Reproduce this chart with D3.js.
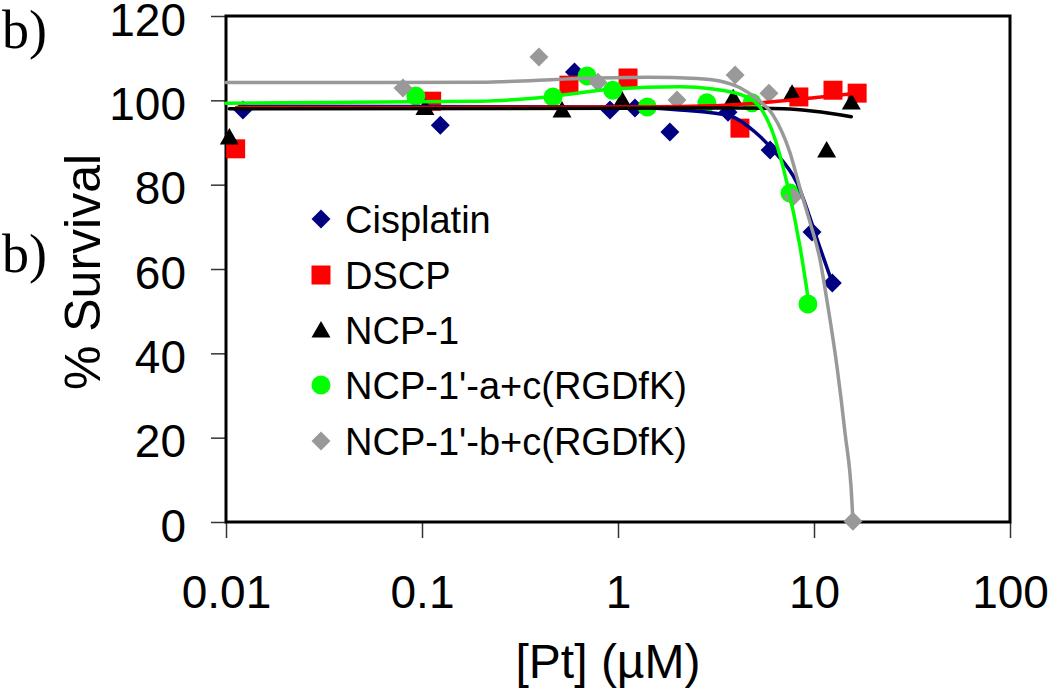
<!DOCTYPE html>
<html>
<head>
<meta charset="utf-8">
<script src="https://cdn.jsdelivr.net/npm/d3@7"></script>
<style>
  html, body { margin: 0; padding: 0; background: #fff; }
  svg { display: block; }
</style>
</head>
<body>
<svg id="chart" width="1050" height="691"></svg>
<script>
// ---------- data ----------
const seriesNames = ["Cisplatin", "DSCP", "NCP-1", "NCP-1'-a+c(RGDfK)", "NCP-1'-b+c(RGDfK)"];
const xTicks = [0.01, 0.1, 1, 10, 100];
const xTickLabels = ["0.01", "0.1", "1", "10", "100"];
const yTicks = [0, 20, 40, 60, 80, 100, 120];

// measured points [concentration µM, % survival]
const cisplatinPts = [[0.0122, 97.7], [0.124, 94.1], [0.60, 106.7], [0.91, 97.7], [1.22, 98.2], [1.84, 92.5], [3.64, 97.2], [5.97, 88.2], [9.77, 68.8], [12.4, 56.7]];
const dscpPts = [[0.0112, 88.5], [0.112, 99.8], [0.562, 103.6], [1.125, 105.3], [4.19, 93.4], [8.37, 100.8], [12.5, 102.4], [16.6, 101.7]];
const ncp1Pts = [[0.0104, 91.3], [0.1035, 98.3], [0.518, 97.7], [1.05, 100.1], [3.87, 100.6], [7.73, 101.7], [11.6, 88.2], [15.5, 99.6]];
const ncpAPts = [[0.093, 101.0], [0.466, 100.8], [0.695, 105.8], [0.94, 102.4], [1.41, 98.4], [2.84, 99.4], [4.83, 99.4], [7.55, 78.0], [9.31, 51.7]];
const ncpBPts = [[0.080, 102.9], [0.395, 110.3], [0.79, 104.3], [2.0, 100.1], [3.96, 106.0], [5.89, 101.7], [7.81, 77.1], [15.8, 0.2]];

// fitted curves
const cisplatinFit = [[0.0122, 98.6], [1, 98.4], [2.07, 97.7], [3.72, 96.3], [5.0, 92.5], [6.18, 88.2], [8.19, 80.4], [10.7, 65.2], [12.4, 56.7]];
const dscpFit = [[0.0113, 98.3], [0.1, 98.3], [1, 98.4], [3, 98.7], [6, 99.6], [10, 100.6], [16.6, 101.7]];
const ncp1Fit = [[0.0104, 98.0], [1, 98.1], [4, 98.2], [7, 98.0], [10, 97.4], [15.5, 96.1]];
const ncpAFit = [[0.01, 99.3], [0.198, 99.8], [0.434, 100.8], [0.942, 102.7], [2.07, 103.2], [3.05, 102.7], [4.55, 100.8], [5.30, 98.4], [6.18, 92.2], [7.28, 80.4], [8.49, 65.2], [9.31, 53.4]];
const ncpBFit = [[0.01, 104.2], [0.198, 104.3], [0.64, 105.2], [1.41, 105.5], [2.53, 105.2], [3.3, 104.6], [4.19, 103.0], [5.12, 100.3], [6.18, 96.5], [7.55, 87.5], [8.5, 79], [9.55, 71], [10.7, 62.5], [11.6, 53], [13.1, 36.8], [14.4, 21.1], [15.6, 5.2], [15.8, 0]];

const colors = ["#000080", "#FF0000", "#000000", "#00FF00", "#999999"];
const shapes = ["diamond", "square", "triangle", "circle", "diamond"];
const allPts = [cisplatinPts, dscpPts, ncp1Pts, ncpAPts, ncpBPts];
const allFits = [cisplatinFit, dscpFit, ncp1Fit, ncpAFit, ncpBFit];

// ---------- layout ----------
const svg = d3.select("#chart");
const L = 226, R = 1010, T = 16, B = 522;
const x = d3.scaleLog().domain([0.01, 100]).range([L, R]);
const y = d3.scaleLinear().domain([0, 120]).range([B, T]);
const SANS = "'Liberation Sans', Arial, sans-serif";
const SERIF = "'Liberation Serif', 'Times New Roman', serif";

function shapePath(s) {
  if (s === "diamond") return "M0,-9.5L9.5,0L0,9.5L-9.5,0Z";
  if (s === "square") return "M-9.5,-9.5H9.5V9.5H-9.5Z";
  if (s === "triangle") return "M0,-9L9.5,7.5L-9.5,7.5Z";
  return d3.symbol(d3.symbolCircle, Math.PI * 9.5 * 9.5)();
}

// axes
const yAxis = d3.axisLeft(y).tickValues(yTicks).tickSize(15).tickPadding(25).tickFormat(d3.format("d"));
const gy = svg.append("g").attr("transform", `translate(${L},0)`).call(yAxis);
gy.select(".domain").remove();
gy.selectAll(".tick line").attr("stroke", "#333").attr("stroke-width", 1.5);
gy.selectAll(".tick text").attr("font-family", SANS).attr("font-size", 46).attr("fill", "#000").attr("dy", "0.42em");

const xAxis = d3.axisBottom(x).tickValues(xTicks).tickSize(16).tickFormat((d, i) => xTickLabels[i]);
const gx = svg.append("g").attr("transform", `translate(0,${B})`).call(xAxis);
gx.select(".domain").remove();
gx.selectAll(".tick line").attr("stroke", "#333").attr("stroke-width", 1.5);
gx.selectAll(".tick text").attr("font-family", SANS).attr("font-size", 46).attr("fill", "#000").attr("y", 86).attr("dy", 0);

// plot frame
svg.append("rect").attr("x", L).attr("y", T).attr("width", R - L).attr("height", B - T)
  .attr("fill", "none").attr("stroke", "#000").attr("stroke-width", 3);

// markers
allPts.forEach((pts, i) => {
  svg.append("g").selectAll("path").data(pts).join("path")
    .attr("d", shapePath(shapes[i]))
    .attr("transform", d => `translate(${x(d[0])},${y(d[1])})`)
    .attr("fill", colors[i]);
});

// fitted lines
const line = d3.line().x(d => x(d[0])).y(d => y(d[1])).curve(d3.curveMonotoneX);
allFits.forEach((f, i) => {
  svg.append("path").datum(f).attr("d", line)
    .attr("fill", "none").attr("stroke", colors[i]).attr("stroke-width", 3.5)
    .attr("stroke-linejoin", "round").attr("stroke-linecap", "round");
});

// legend
const legY = [219, 275, 330, 385, 441];
seriesNames.forEach((name, i) => {
  svg.append("path").attr("d", shapePath(shapes[i]))
    .attr("transform", `translate(321,${legY[i]})`).attr("fill", colors[i]);
  svg.append("text").attr("x", 345).attr("y", legY[i]).attr("dy", "0.36em")
    .attr("font-family", SANS).attr("font-size", 38).attr("fill", "#000").text(name);
});

// axis titles
svg.append("text").attr("x", 608).attr("y", 678).attr("text-anchor", "middle")
  .attr("font-family", SANS).attr("font-size", 48).text("[Pt] (µM)");
svg.append("text").attr("transform", "translate(100,272) rotate(-90)").attr("text-anchor", "middle")
  .attr("font-family", SANS).attr("font-size", 50).text("% Survival");

// panel letters
svg.append("text").attr("x", 2).attr("y", 48).attr("font-family", SERIF).attr("font-size", 54).text("b)");
svg.append("text").attr("x", 2).attr("y", 272).attr("font-family", SERIF).attr("font-size", 54).text("b)");
</script>
</body>
</html>
